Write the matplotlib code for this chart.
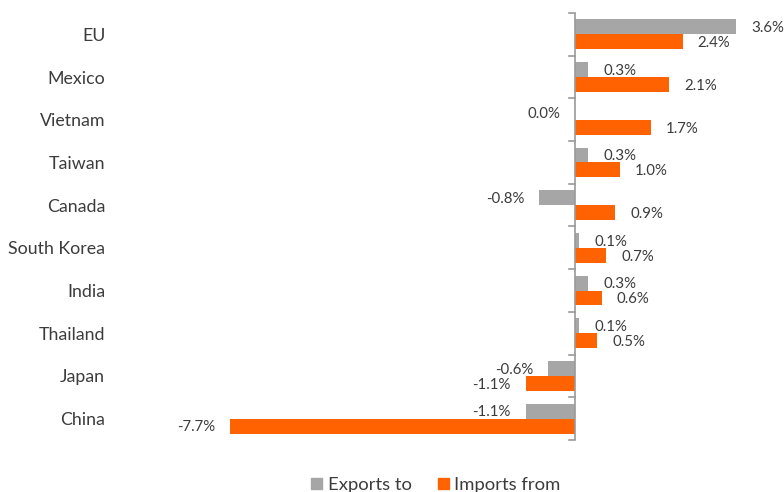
import matplotlib
matplotlib.use("Agg")
import matplotlib.pyplot as plt
from matplotlib.patches import Patch

categories = ["EU", "Mexico", "Vietnam", "Taiwan", "Canada", "South Korea",
              "India", "Thailand", "Japan", "China"]
exports_to = [3.6, 0.3, 0.0, 0.3, -0.8, 0.1, 0.3, 0.1, -0.6, -1.1]
imports_from = [2.4, 2.1, 1.7, 1.0, 0.9, 0.7, 0.6, 0.5, -1.1, -7.7]
series_names = ["Exports to", "Imports from"]

GRAY = "#A6A6A6"
ORANGE = "#FF6200"
TEXT = "#3c3c3c"
plt.rcParams["font.family"] = ["Lato", "DejaVu Sans"]

W, H = 784, 492
fig = plt.figure(figsize=(W / 100, H / 100), dpi=100)
ppu = 44.8
zero_px = 575
left_px, right_px = 115, 762
top_px, bot_px = 13, 440
ax = fig.add_axes([left_px / W, 1 - bot_px / H, (right_px - left_px) / W, (bot_px - top_px) / H])
ax.set_xlim(-(zero_px - left_px) / ppu, (right_px - zero_px) / ppu)
n = len(categories)
ax.set_ylim(n - 0.5, -0.5)

bh = 0.35
ypos = list(range(n))
ax.barh([y - bh / 2 for y in ypos], exports_to, height=bh, color=GRAY, label=series_names[0])
ax.barh([y + bh / 2 for y in ypos], imports_from, height=bh, color=ORANGE, label=series_names[1])

off = 15 / ppu
for i, (e, m) in enumerate(zip(exports_to, imports_from)):
    for v, yy in ((e, i - bh / 2), (m, i + bh / 2)):
        if v > 0:
            ax.text(v + off, yy + 0.03, f"{v:.1f}%", ha="left", va="center", fontsize=10.8, color=TEXT)
        else:
            ax.text(v - off, yy + 0.03, f"{v:.1f}%", ha="right", va="center", fontsize=10.8, color=TEXT)

for s in ax.spines.values():
    s.set_visible(False)
ax.set_xticks([])
ax.set_yticks(ypos)
ax.set_yticklabels(categories, fontsize=12.8, color=TEXT)
ax.tick_params(axis="y", length=0, pad=7)

# vertical zero axis with boundary ticks
ax.axvline(0, color="#9a9a9a", lw=1.2, zorder=3)
tick_len = 6 / ppu
for b in range(n + 1):
    ax.plot([-tick_len, 0], [b - 0.5, b - 0.5], color="#9a9a9a", lw=1.2, zorder=3, clip_on=False)

handles = [Patch(color=GRAY, label=series_names[0]), Patch(color=ORANGE, label=series_names[1])]
fig.legend(handles=handles, loc="center", bbox_to_anchor=(436 / W, 1 - 485 / H), ncol=2,
           frameon=False, fontsize=13.3, handlelength=0.6, handleheight=0.6,
           handletextpad=0.3, columnspacing=1.4, labelcolor=TEXT)

fig.savefig("out.png", dpi=100)
